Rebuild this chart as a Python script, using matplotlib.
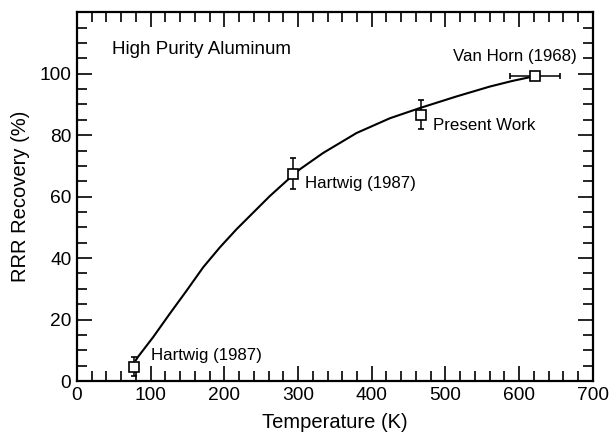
import matplotlib
matplotlib.use("Agg")
import matplotlib.pyplot as plt
from matplotlib.ticker import MultipleLocator

plt.rcParams['font.family'] = ['Liberation Sans', 'DejaVu Sans']

# measured points
temp = [77, 293, 467, 621]
recovery = [4.7, 67.3, 86.7, 99.4]
y_err_lo = [3.1, 4.8, 4.8, 0.0]
y_err_hi = [3.1, 5.2, 4.6, 0.0]
x_err = [0, 0, 0, 34]
point_labels = ["Hartwig (1987)", "Hartwig (1987)", "Present Work", "Van Horn (1968)"]

# hand-drawn fit curve
curve_t = [80, 83, 103.5, 126, 148.8, 171.3, 194, 216.6, 239.2, 261.8, 289,
           302.5, 334, 379.4, 424.6, 465, 515, 560, 590, 621]
curve_y = [6.8, 7.9, 14.3, 21.9, 29.4, 37.0, 43.5, 49.4, 54.8, 60.2, 66.1,
           68.9, 74.2, 80.7, 85.5, 88.8, 92.6, 95.8, 97.6, 99.2]

fig = plt.figure(figsize=(6.10, 4.36), dpi=100)
ax = fig.add_axes([0.126, 0.126, 0.846, 0.846])

ax.plot(curve_t, curve_y, color='black', lw=1.5, zorder=2)
ax.errorbar(temp, recovery, yerr=[y_err_lo, y_err_hi], xerr=x_err, fmt='s',
            ms=7.5, mfc='white', mec='black', mew=1.2, ecolor='black',
            elinewidth=1.1, capsize=2.5, capthick=1.1, zorder=3)

# labels next to the points
ax.text(101, 8.2, point_labels[0], fontsize=12.2, va='center', ha='left')
ax.text(309, 64.4, point_labels[1], fontsize=12.2, va='center', ha='left')
ax.text(483, 83.2, point_labels[2], fontsize=12.2, va='center', ha='left')
ax.text(510, 105.5, point_labels[3], fontsize=12.2, va='center', ha='left')
ax.text(47, 107.8, "High Purity Aluminum", fontsize=13.5, va='center', ha='left')

ax.set_xlim(0, 700)
ax.set_ylim(0, 120)
ax.xaxis.set_major_locator(MultipleLocator(100))
ax.xaxis.set_minor_locator(MultipleLocator(20))
ax.yaxis.set_minor_locator(MultipleLocator(5))
ax.set_yticks([0, 20, 40, 60, 80, 100])
ax.tick_params(which='both', direction='in', top=True, right=True, width=1.2,
               labelsize=13.8)
ax.tick_params(which='major', length=11, pad=4)
ax.tick_params(which='minor', length=7)
for s in ax.spines.values():
    s.set_linewidth(1.6)

ax.set_xlabel("Temperature (K)", fontsize=14.5, labelpad=7)
ax.set_ylabel("RRR Recovery (%)", fontsize=14.5, labelpad=7)

fig.savefig("out.png", dpi=100)
